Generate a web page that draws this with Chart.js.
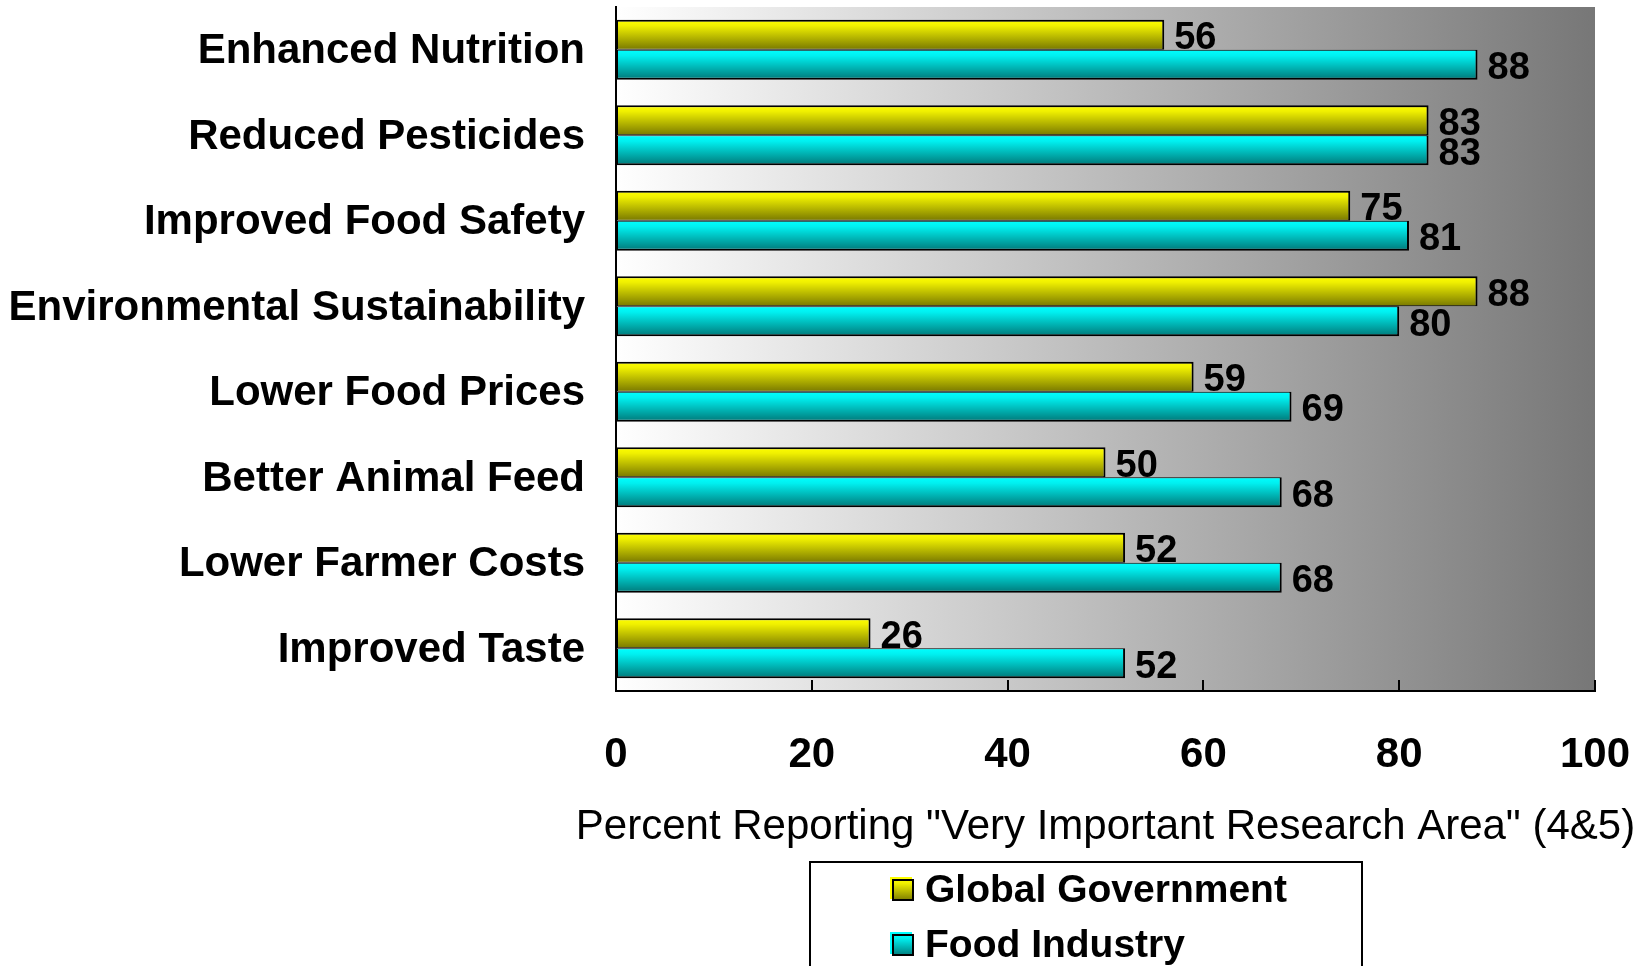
<!DOCTYPE html>
<html>
<head>
<meta charset="utf-8">
<script src="https://cdn.jsdelivr.net/npm/chart.js@4/dist/chart.umd.min.js"></script>
<style>
  html, body { margin: 0; padding: 0; background: #ffffff; }
  #wrap { position: relative; width: 1648px; height: 966px; }
</style>
</head>
<body>
<div id="wrap"><canvas id="c"></canvas></div>
<script>
const categories = [
  "Enhanced Nutrition",
  "Reduced Pesticides",
  "Improved Food Safety",
  "Environmental Sustainability",
  "Lower Food Prices",
  "Better Animal Feed",
  "Lower Farmer Costs",
  "Improved Taste"
];
const globalGovernment = [56, 83, 75, 88, 59, 50, 52, 26];
const foodIndustry = [88, 83, 81, 80, 69, 68, 68, 52];
const xTicks = [0, 20, 40, 60, 80, 100];
const seriesNames = ["Global Government", "Food Industry"];
const axisTitle = 'Percent Reporting "Very Important Research Area" (4&5)';

const FONT = "'Liberation Sans', Arial, Helvetica, sans-serif";
const CAT_PCT = 0.70;
const palettes = [
  { top: '#ffff00', mid: '#f0f000', bottom: '#787800' },
  { top: '#00ffff', mid: '#00f0f0', bottom: '#007878' }
];

function makeGrad(ctx, top, h, pal) {
  const g = ctx.createLinearGradient(0, top, 0, top + h);
  g.addColorStop(0, pal.top);
  g.addColorStop(0.2, pal.mid);
  g.addColorStop(1, pal.bottom);
  return g;
}

function barFill(c) {
  const pal = palettes[c.datasetIndex] || palettes[0];
  const chart = c.chart;
  const ys = chart.scales && chart.scales.y;
  if (c.type !== 'data' || !chart.chartArea || !ys) return pal.top;
  const center = ys.getPixelForValue(c.dataIndex);
  const band = (ys.height / chart.data.labels.length) * CAT_PCT;
  const half = band / 2;
  const top = c.datasetIndex === 0 ? center - half : center;
  return makeGrad(chart.ctx, top, half, pal);
}

function zeroPad(scale) {
  scale.paddingLeft = 0;
  scale.paddingRight = 0;
  scale.paddingTop = 0;
  scale.paddingBottom = 0;
}

const bgPlugin = {
  id: 'plotBg',
  beforeDraw(chart) {
    const { ctx, chartArea: a } = chart;
    const g = ctx.createLinearGradient(a.left, 0, a.right, 0);
    g.addColorStop(0, '#ffffff');
    g.addColorStop(1, '#777777');
    ctx.save();
    ctx.fillStyle = g;
    ctx.fillRect(a.left, a.top, a.right - a.left, a.bottom - a.top);
    ctx.restore();
  }
};

const tickMarkPlugin = {
  id: 'innerTicks',
  afterDatasetsDraw(chart) {
    const { ctx, chartArea: a } = chart;
    const xs = chart.scales.x;
    ctx.save();
    ctx.strokeStyle = '#000';
    ctx.lineWidth = 2;
    xs.ticks.forEach(t => {
      const px = Math.round(xs.getPixelForValue(t.value));
      ctx.beginPath();
      ctx.moveTo(px, a.bottom - 11);
      ctx.lineTo(px, a.bottom);
      ctx.stroke();
    });
    ctx.restore();
  }
};

const axisTitlePlugin = {
  id: 'axisTitle',
  afterDraw(chart) {
    const { ctx, chartArea: a } = chart;
    ctx.save();
    ctx.font = "42px " + FONT;
    ctx.fillStyle = '#000';
    ctx.textAlign = 'center';
    ctx.textBaseline = 'middle';
    ctx.fillText(axisTitle, (a.left + a.right) / 2, a.bottom + 136);
    ctx.restore();
  }
};

const valueLabelPlugin = {
  id: 'valueLabels',
  afterDatasetsDraw(chart) {
    const { ctx } = chart;
    ctx.save();
    ctx.font = "bold 38px " + FONT;
    ctx.fillStyle = '#000';
    ctx.textAlign = 'left';
    ctx.textBaseline = 'middle';
    chart.data.datasets.forEach((ds, di) => {
      const meta = chart.getDatasetMeta(di);
      meta.data.forEach((el, i) => {
        ctx.fillText(String(ds.data[i]), el.x + 10, el.y + 4);
      });
    });
    ctx.restore();
  }
};

const legendPlugin = {
  id: 'boxLegend',
  afterDraw(chart) {
    const { ctx } = chart;
    const boxL = 810, boxT = 862, boxR = 1362, boxB = 990;
    ctx.save();
    ctx.strokeStyle = '#000';
    ctx.lineWidth = 2;
    ctx.strokeRect(boxL, boxT, boxR - boxL, boxB - boxT);
    const rows = [890, 945];
    chart.data.datasets.forEach((ds, di) => {
      const pal = palettes[di];
      const cy = rows[di];
      const s = 22, x = 892, y = cy - s / 2;
      ctx.fillStyle = pal.top;
      ctx.fillRect(x - 2, y - 2, s, s);
      ctx.fillStyle = makeGrad(ctx, y, s, pal);
      ctx.fillRect(x, y, s, s);
      ctx.lineWidth = 2;
      ctx.strokeStyle = '#000';
      ctx.strokeRect(x + 1, y + 1, s - 2, s - 2);
      ctx.fillStyle = '#000';
      ctx.font = "bold 39px " + FONT;
      ctx.textAlign = 'left';
      ctx.textBaseline = 'middle';
      ctx.fillText(ds.label, 925, cy + 1);
    });
    ctx.restore();
  }
};

new Chart(document.getElementById('c'), {
  type: 'bar',
  data: {
    labels: categories,
    datasets: [
      {
        label: seriesNames[0],
        data: globalGovernment,
        backgroundColor: barFill,
        borderColor: '#000',
        borderWidth: { top: 2, bottom: 1, left: 2, right: 2 },
        borderSkipped: false,
        categoryPercentage: CAT_PCT,
        barPercentage: 1.0
      },
      {
        label: seriesNames[1],
        data: foodIndustry,
        backgroundColor: barFill,
        borderColor: '#000',
        borderWidth: { top: 1, bottom: 2, left: 2, right: 2 },
        borderSkipped: false,
        categoryPercentage: CAT_PCT,
        barPercentage: 1.0
      }
    ]
  },
  options: {
    indexAxis: 'y',
    responsive: true,
    maintainAspectRatio: false,
    animation: false,
    layout: { padding: { left: 0, top: 7, right: 53, bottom: 0 } },
    plugins: {
      legend: { display: false },
      tooltip: { enabled: false },
      title: { display: false }
    },
    scales: {
      x: {
        type: 'linear',
        min: 0,
        max: 100,
        afterBuildTicks(scale) { scale.ticks = xTicks.map(v => ({ value: v })); },
        afterFit(scale) { scale.height = 275; zeroPad(scale); },
        grid: { display: false, drawTicks: false },
        border: { display: true, color: '#000', width: 2 },
        ticks: {
          color: '#000',
          padding: 39,
          maxRotation: 0,
          font: { family: FONT, size: 42, weight: 'bold' }
        },
        title: { display: false }
      },
      y: {
        type: 'category',
        afterFit(scale) { scale.width = 616; zeroPad(scale); },
        grid: { display: false, drawTicks: false },
        border: { display: true, color: '#000', width: 2 },
        ticks: {
          color: '#000',
          padding: 31,
          labelOffset: 2,
          autoSkip: false,
          font: { family: FONT, size: 42, weight: 'bold' }
        }
      }
    }
  },
  plugins: [bgPlugin, tickMarkPlugin, valueLabelPlugin, axisTitlePlugin, legendPlugin]
});
</script>
</body>
</html>
